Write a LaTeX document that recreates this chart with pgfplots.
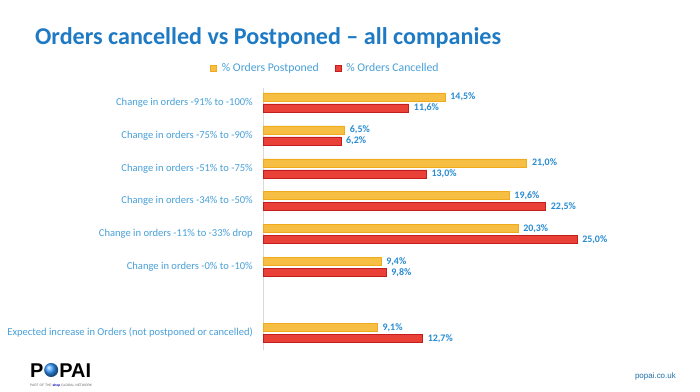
\documentclass[border=0pt]{standalone}
\usepackage{pgfplots}
\pgfplotsset{compat=1.18}
\usepackage{fontspec}
\setmainfont{Carlito}
\newfontfamily\arialfont{Liberation Sans}
\definecolor{titleblue}{RGB}{31,122,196}
\definecolor{labelblue}{RGB}{72,160,216}
\definecolor{valblue}{RGB}{40,140,210}
\definecolor{orangef}{RGB}{247,190,68}
\definecolor{oranged}{RGB}{240,170,30}
\definecolor{redf}{RGB}{233,64,56}
\definecolor{redd}{RGB}{195,30,30}
\begin{document}
\begin{tikzpicture}
\useasboundingbox[fill=white] (0,0) rectangle (700bp,-392bp);
\node[anchor=base west, inner sep=0, font=\bfseries\fontsize{24.2}{24}\selectfont, text=titleblue] at (35bp,-44bp) {Orders cancelled vs Postponed – all companies};
\begin{axis}[
  at={(263bp,-350bp)}, anchor=south west,
  scale only axis, width=376.8bp, height=262bp,
  xmin=0, xmax=30, ymin=-0.52, ymax=7.44,
  xbar, bar width=8bp,
  axis x line=none, axis y line*=left,
  axis line style={-, draw=black!15},
  ytick={0,2,3,4,5,6,7},
  yticklabels={Expected increase in Orders (not postponed or cancelled),
    Change in orders -0\% to -10\%,
    Change in orders -11\% to -33\% drop,
    Change in orders -34\% to -50\%,
    Change in orders -51\% to -75\%,
    Change in orders -75\% to -90\%,
    Change in orders -91\% to -100\%},
  major tick length=0pt,
  yticklabel style={font=\fontsize{10.6}{11}\selectfont, text=labelblue, inner sep=0pt, xshift=-10bp},
  /pgf/number format/assume math mode=true,
  point meta=x,
  nodes near coords={\pgfmathprintnumber[fixed,fixed zerofill,precision=1,use comma,assume math mode=true]{\pgfplotspointmeta}\%},
  every node near coord/.append style={font=\bfseries\fontsize{10}{10}\selectfont, text=valblue, anchor=west, inner sep=0pt, xshift=5bp},
  legend columns=2,
  legend style={draw=none, fill=none, at={(0.166,1.076)}, anchor=center,
    font=\fontsize{11.8}{12}\selectfont, text=labelblue,
    /tikz/every even column/.append style={column sep=14bp}},
  legend image code/.code={\draw[#1,line width=0.5bp] (-2bp,-3bp) rectangle (4bp,3bp);},
]
\addplot[fill=orangef, draw=oranged, line width=0.6bp, bar shift=5.5bp] coordinates {
  (14.5,7) (6.5,6) (21.0,5) (19.6,4) (20.3,3) (9.4,2) (9.1,0)};
\addplot[fill=redf, draw=redd, line width=0.6bp, bar shift=-5.5bp] coordinates {
  (11.6,7) (6.2,6) (13.0,5) (22.5,4) (25.0,3) (9.8,2) (12.7,0)};
\legend{\hspace{3bp}\% Orders Postponed, \hspace{3bp}\% Orders Cancelled}
\end{axis}
\node[anchor=base west, inner sep=0, font=\arialfont\bfseries\fontsize{20}{20}\selectfont] (P) at (30bp,-377bp) {P};
\shade[ball color=cyan!50!blue!80] ([xshift=7.5bp,yshift=7bp]P.base east) circle (7bp);
\node[anchor=base west, inner sep=0, font=\arialfont\bfseries\fontsize{20}{20}\selectfont] at ([xshift=15.5bp]P.base east) {PAI};
\node[anchor=base west, inner sep=0, font=\arialfont\fontsize{3.3}{3.3}\selectfont, text=black!60] at (30bp,-386bp) {PART OF THE \textbf{\color{blue!70!black}shop} GLOBAL NETWORK};
\node[anchor=base east, inner sep=0, font=\arialfont\fontsize{8}{8}\selectfont, text=valblue!80!black] at (676bp,-378bp) {popai.co.uk};
\end{tikzpicture}
\end{document}
